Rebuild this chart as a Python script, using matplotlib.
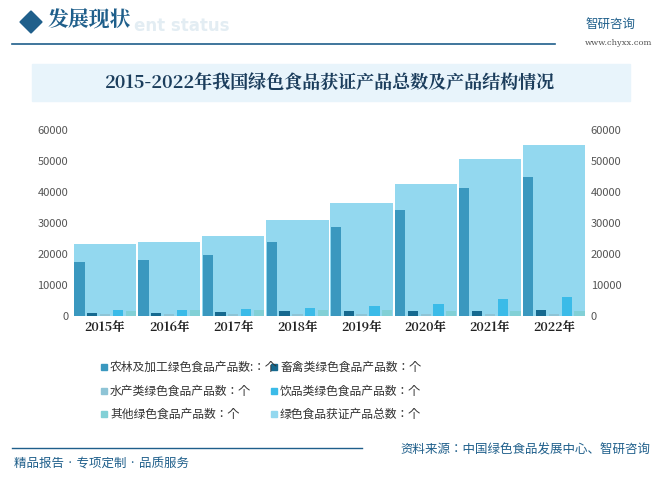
import matplotlib
matplotlib.use("Agg")
import matplotlib.pyplot as plt
from matplotlib.patches import Rectangle, Polygon

plt.rcParams["font.family"] = ["Noto Sans CJK JP", "DejaVu Sans"]
SERIF = ["Noto Serif CJK JP", "DejaVu Serif"]

years = ["2015年", "2016年", "2017年", "2018年", "2019年", "2020年", "2021年", "2022年"]
agri = [17500, 18000, 19700, 23900, 28700, 34200, 41200, 44800]
livestock = [1000, 1000, 1200, 1500, 1500, 1500, 1500, 1800]
aquatic = [500, 500, 500, 500, 500, 500, 500, 500]
beverage = [1800, 1800, 2100, 2500, 3200, 3900, 5400, 6100]
other = [1500, 1800, 1800, 1800, 1800, 1500, 1500, 1500]
total = [23200, 23900, 25800, 31000, 36400, 42700, 50600, 55200]
series_names = ["农林及加工绿色食品产品数:：个", "畜禽类绿色食品产品数：个", "水产类绿色食品产品数：个",
                "饮品类绿色食品产品数：个", "其他绿色食品产品数：个", "绿色食品获证产品总数：个"]
colors = ["#3a98bf", "#16698f", "#8ec4d6", "#3bbbe8", "#82d0d6", "#93d8ef"]

W, H = 660, 483
fig = plt.figure(figsize=(6.6, 4.83), dpi=100)
fig.patch.set_facecolor("white")

def fx(px): return px / W
def fy(py): return 1 - py / H

# header
fig.patches.append(Polygon([[fx(20), fy(22)], [fx(31), fy(11)], [fx(42), fy(22)], [fx(31), fy(33)]],
                           closed=True, transform=fig.transFigure, color="#1f5f8b"))
fig.text(fx(47), fy(21), "发展现状", fontsize=15, color="#1f5f8b", va="center", family=SERIF,
         fontweight="bold")
fig.text(fx(134), fy(26), "ent status", fontsize=12, color="#e3edf3", va="center", fontweight="bold",
         family="DejaVu Sans")
fig.add_artist(plt.Line2D([fx(12), fx(555)], [fy(44), fy(44)], color="#1f5f8b", lw=1.2))
fig.text(fx(585), fy(24), "智研咨询", fontsize=9, color="#1f5f8b", va="center")
fig.text(fx(585), fy(43), "www.chyxx.com", fontsize=6, color="#555555", va="center", family="DejaVu Serif")
fig.patches.append(Rectangle((fx(32), fy(101)), fx(598), 37 / H, transform=fig.transFigure,
                             color="#e8f4fb", zorder=0))
fig.text(0.5, fy(83), "2015-2022年我国绿色食品获证产品总数及产品结构情况", fontsize=13,
         color="#1b3d5c", ha="center", va="center", fontweight="bold", family=SERIF)

ax = fig.add_axes([fx(73), 167 / H, 513 / W, 186 / H])
ax.set_facecolor("none")
x = list(range(len(years)))
ax.bar(x, total, width=0.97, color=colors[5], zorder=1)
offsets = [-0.40, -0.20, 0.0, 0.20, 0.40]
for off, vals, c in zip(offsets, [agri, livestock, aquatic, beverage, other], colors[:5]):
    ax.bar([i + off for i in x], vals, width=0.16, color=c, zorder=2)
ax.set_xlim(-0.5, 7.5)
ax.set_ylim(0, 60000)
ax.set_yticks(range(0, 60001, 10000))
ax.set_xticks(x)
ax.set_xticklabels(years, fontsize=9, fontweight="bold", color="#222222", family=SERIF)
ax.tick_params(axis="y", labelsize=8, colors="#555555", length=0)
ax.tick_params(axis="x", length=0, pad=3)
for s in ax.spines.values():
    s.set_visible(False)
ax2 = ax.twinx()
ax2.set_ylim(0, 60000)
ax2.set_yticks(range(0, 60001, 10000))
ax2.tick_params(axis="y", labelsize=8, colors="#555555", length=0)
for s in ax2.spines.values():
    s.set_visible(False)

# legend
pos = [(105, 367), (275, 367), (105, 391), (275, 391), (105, 414), (275, 414)]
for (px, py), name, c in zip(pos, series_names, colors):
    fig.patches.append(Rectangle((fx(px - 4), fy(py + 3)), 6 / W, 6 / H, transform=fig.transFigure, color=c))
    fig.text(fx(px + 5), fy(py), name, fontsize=8.5, color="#333333", va="center")

# footer
fig.add_artist(plt.Line2D([fx(12), fx(362)], [fy(448), fy(448)], color="#1f5f8b", lw=1.0))
fig.text(fx(14), fy(464), "精品报告 · 专项定制 · 品质服务", fontsize=9, color="#1f5f8b", va="center")
fig.text(fx(650), fy(450), "资料来源：中国绿色食品发展中心、智研咨询", fontsize=9, color="#1f5f8b",
         va="center", ha="right")

fig.savefig("out.png", dpi=100)
